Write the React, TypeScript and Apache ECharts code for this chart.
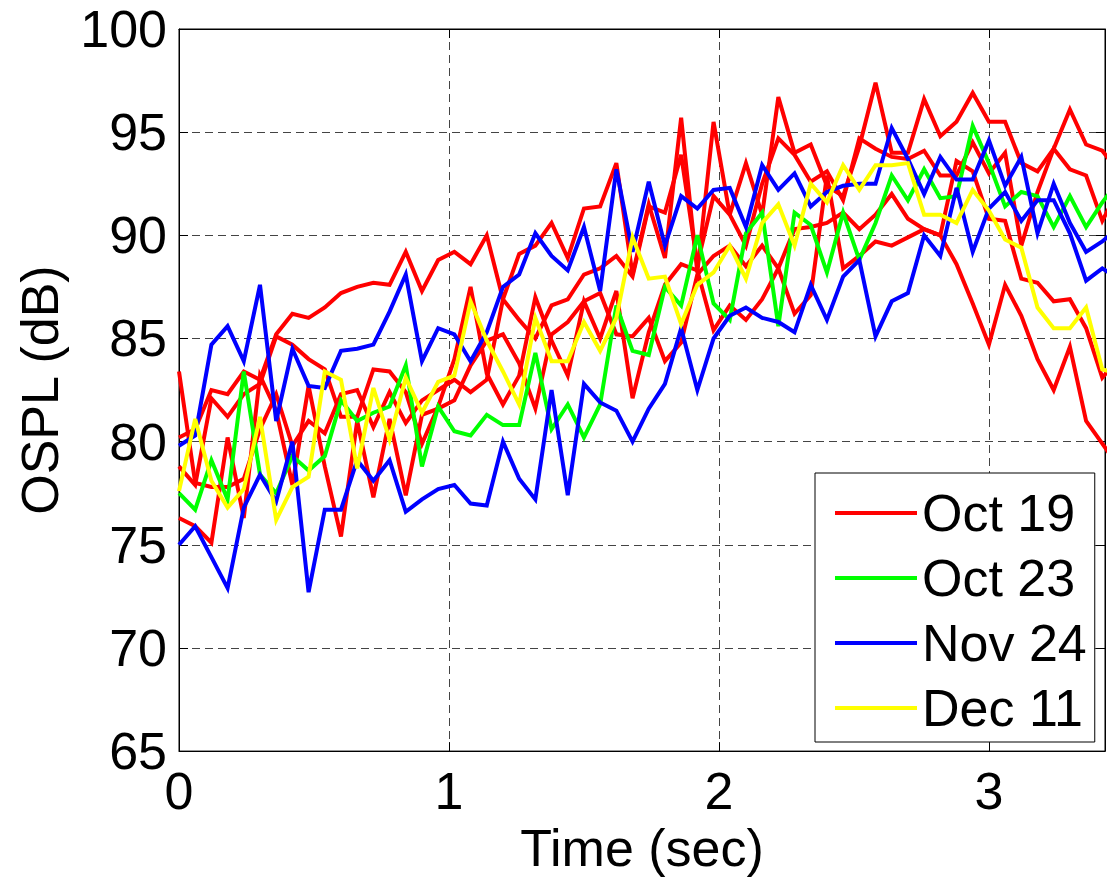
import React, { useEffect, useRef } from "react";
import * as echarts from "echarts";

// Sampling step of the OSPL traces (seconds)
const DT = 0.06;
const X_MIN = 0;
const X_MAX = 3.43;
const Y_MIN = 65;
const Y_MAX = 100;

const legendNames = ["Oct 19", "Oct 23", "Nov 24", "Dec 11"];

// Oct 19 (four runs, red)
const oct19a = [
  80.2, 80.6, 82.5, 82.3, 83.4, 83.0, 85.2, 86.2, 86.0, 86.5, 87.2,
  87.5, 87.7, 87.6, 89.2, 87.3, 88.8, 89.2, 88.6, 90.0, 86.9,
  89.1, 89.5, 90.6, 88.9, 91.3, 91.4, 93.5, 88.1, 91.5, 88.9,
  95.7, 88.2, 95.5, 91.0, 93.5, 91.0, 96.7, 94.0, 94.4, 92.4,
  91.9, 94.3, 97.4, 94.0, 94.0, 96.6, 94.8, 95.5, 96.9, 95.5,
  95.5, 93.5, 93.1, 94.2, 96.1, 94.4, 94.1, 93.1,
];
const oct19b = [
  83.4, 78.0, 77.8, 77.8, 78.2, 80.6, 82.3, 79.8, 81.0, 80.4, 82.3,
  82.5, 80.7, 82.4, 80.9, 82.0, 82.5, 83.0, 82.4, 83.0, 86.9,
  85.9, 85.0, 86.6, 86.9, 88.1, 88.4, 89.0, 88.0, 91.4, 91.1,
  93.9, 88.6, 91.9, 91.0, 89.5, 92.5, 94.7, 93.9, 92.6, 93.1,
  91.7, 94.7, 94.2, 93.8, 93.7, 94.1, 92.9, 92.9, 94.5, 93.0,
  94.0, 89.5, 92.1, 94.2, 93.2, 92.9, 90.7, 92.2,
];
const oct19c = [
  78.8, 77.9, 82.1, 81.2, 82.3, 82.8, 85.1, 84.7, 84.0, 83.5, 81.2,
  81.2, 83.5, 83.4, 82.4, 79.9, 81.7, 84.0, 87.5, 83.3, 81.8,
  83.2, 87.0, 84.9, 83.2, 86.8, 85.0, 87.3, 82.1, 85.3, 87.6,
  88.6, 88.3, 85.4, 86.6, 85.9, 86.9, 88.4, 86.2, 87.1, 92.9,
  88.4, 89.0, 89.7, 89.5, 89.9, 90.3, 90.0, 93.6, 93.1, 90.8,
  90.7, 87.9, 87.7, 86.8, 86.9, 85.5, 83.1, 84.0,
];
const oct19d = [
  76.3, 75.9, 75.1, 80.2, 76.3, 83.2, 81.5, 77.9, 82.7, 78.8, 75.4,
  81.0, 77.3, 81.1, 77.4, 81.3, 81.6, 82.0, 83.7, 84.9, 85.2,
  83.8, 81.6, 85.2, 85.8, 86.8, 87.2, 85.2, 85.1, 86.0, 83.9,
  84.8, 88.1, 89.0, 89.5, 88.5, 89.5, 88.4, 90.3, 90.4, 90.6,
  91.1, 90.3, 91.0, 92.0, 90.8, 90.3, 90.0, 88.6, 86.7, 84.7,
  87.6, 86.1, 84.0, 82.5, 84.6, 81.0, 79.9, 78.8,
];

// Oct 23 (green)
const oct23 = [
  77.5, 76.7, 79.1, 77.2, 83.4, 78.4, 77.5, 79.3, 78.6, 79.3, 82.0,
  81.0, 81.4, 81.7, 83.7, 78.8, 81.7, 80.5, 80.3, 81.3, 80.8,
  80.8, 84.3, 80.6, 81.8, 80.2, 81.8, 86.6, 84.4, 84.2, 87.5,
  86.6, 90.0, 86.7, 85.9, 90.1, 91.1, 85.6, 91.1, 90.5, 88.2,
  91.1, 88.8, 90.6, 92.9, 91.7, 93.2, 91.8, 91.9, 95.3, 93.5,
  91.4, 92.1, 91.9, 90.4, 91.9, 90.4, 91.6, 92.6,
];

// Nov 24 (two runs, blue)
const nov24a = [
  79.8, 80.3, 84.7, 85.6, 83.9, 87.6, 81.0, 84.5, 82.7, 82.6, 84.4,
  84.5, 84.7, 86.3, 88.1, 83.9, 85.5, 85.2, 83.9, 85.3, 87.5,
  88.1, 90.1, 89.0, 88.3, 90.4, 87.3, 93.2, 89.2, 92.6, 89.5,
  91.9, 91.3, 92.2, 92.3, 90.4, 93.4, 92.2, 93.0, 91.4, 92.1,
  92.4, 92.5, 92.5, 95.2, 93.7, 92.0, 93.8, 92.7, 92.7, 94.6,
  92.4, 93.8, 90.1, 92.5, 90.6, 89.2, 89.7, 90.4,
];
const nov24b = [
  75.0, 75.9, 74.4, 72.9, 76.8, 78.4, 77.1, 80.0, 72.7, 76.7, 76.7,
  79.1, 78.1, 79.1, 76.6, 77.2, 77.7, 77.9, 77.0, 76.9, 80.0,
  78.2, 77.2, 82.5, 77.4, 82.8, 81.9, 81.5, 80.0, 81.6, 82.8,
  85.5, 82.5, 85.0, 86.1, 86.5, 86.0, 85.8, 85.3, 87.6, 85.9,
  88.0, 88.8, 85.1, 86.8, 87.2, 90.0, 89.0, 92.3, 89.2, 91.3,
  92.1, 90.7, 91.7, 91.7, 90.1, 87.8, 88.4, 87.9,
];

// Dec 11 (yellow)
const dec11 = [
  77.6, 81.1, 78.1, 76.8, 77.7, 81.2, 76.2, 77.8, 78.3, 83.4, 83.0,
  78.7, 82.6, 80.1, 83.1, 81.4, 82.9, 83.2, 86.8, 84.9, 83.4,
  81.8, 86.0, 83.9, 83.9, 85.8, 84.4, 86.0, 89.9, 87.9, 88.0,
  85.7, 87.6, 88.2, 89.5, 87.9, 90.6, 91.5, 89.5, 92.5, 91.6,
  93.4, 92.2, 93.4, 93.4, 93.5, 91.0, 91.0, 90.6, 92.2, 91.2,
  89.8, 89.4, 86.5, 85.5, 85.5, 86.5, 83.5, 83.3,
];

const FONT = "'Liberation Sans', Arial, Helvetica, sans-serif";

const toPairs = (vals: number[]) =>
  vals.map((v, i) => [Math.round(i * DT * 1000) / 1000, v]);

const runs: { name: string; color: string; data: number[] }[] = [
  { name: "Oct 19", color: "#ff0000", data: oct19a },
  { name: "Oct 19", color: "#ff0000", data: oct19b },
  { name: "Oct 19", color: "#ff0000", data: oct19c },
  { name: "Oct 19", color: "#ff0000", data: oct19d },
  { name: "Oct 23", color: "#00ff00", data: oct23 },
  { name: "Nov 24", color: "#0000ff", data: nov24a },
  { name: "Nov 24", color: "#0000ff", data: nov24b },
  { name: "Dec 11", color: "#ffff00", data: dec11 },
];

export default function App() {
  const ref = useRef<HTMLDivElement>(null);

  useEffect(() => {
    if (!ref.current) return;
    const chart = echarts.init(ref.current, undefined, { renderer: "svg" });

    const gridLine = { type: [8, 5] as any, color: "#444", width: 1 };

    const option: any = {
      animation: false,
      backgroundColor: "#ffffff",
      textStyle: { fontFamily: FONT },
      grid: {
        left: 179,
        top: 29,
        right: 1,
        bottom: 122,
        show: true,
        borderColor: "#000",
        borderWidth: 1,
        backgroundColor: "transparent",
      },
      xAxis: [
        {
          type: "value",
          min: X_MIN,
          max: X_MAX,
          interval: 1,
          position: "bottom",
          name: "Time (sec)",
          nameLocation: "middle",
          nameGap: 62,
          nameTextStyle: { fontSize: 52, color: "#000", fontFamily: FONT },
          axisLine: { show: true, onZero: false, lineStyle: { color: "#000", width: 1 } },
          axisTick: { show: true, inside: true, length: 9, lineStyle: { color: "#000" } },
          axisLabel: {
            fontSize: 52,
            color: "#000",
            margin: 14,
            fontFamily: FONT,
            formatter: (v: number) => (Number.isInteger(v) ? String(v) : ""),
          },
          splitLine: { show: true, lineStyle: gridLine },
        },
        {
          type: "value",
          min: X_MIN,
          max: X_MAX,
          interval: 1,
          position: "top",
          axisLine: { show: true, onZero: false, lineStyle: { color: "#000", width: 1 } },
          axisTick: { show: true, inside: true, length: 9, lineStyle: { color: "#000" } },
          axisLabel: { show: false },
          splitLine: { show: false },
        },
      ],
      yAxis: [
        {
          type: "value",
          min: Y_MIN,
          max: Y_MAX,
          interval: 5,
          position: "left",
          name: "OSPL (dB)",
          nameLocation: "middle",
          nameGap: 113,
          nameTextStyle: { fontSize: 52, color: "#000", fontFamily: FONT },
          axisLine: { show: true, onZero: false, lineStyle: { color: "#000", width: 1 } },
          axisTick: { show: true, inside: true, length: 9, lineStyle: { color: "#000" } },
          axisLabel: { fontSize: 52, color: "#000", margin: 12, fontFamily: FONT },
          splitLine: { show: true, lineStyle: gridLine },
        },
        {
          type: "value",
          min: Y_MIN,
          max: Y_MAX,
          interval: 5,
          position: "right",
          axisLine: { show: true, onZero: false, lineStyle: { color: "#000", width: 1 } },
          axisTick: { show: true, inside: true, length: 9, lineStyle: { color: "#000" } },
          axisLabel: { show: false },
          splitLine: { show: false },
        },
      ],
      legend: {
        data: legendNames,
        orient: "vertical",
        left: 815,
        top: 473,
        itemWidth: 82,
        itemHeight: 14,
        itemGap: 13,
        itemTextGap: 27,
        padding: [14, 8, 8, 18],
        backgroundColor: "#ffffff",
        borderColor: "#000",
        borderWidth: 1,
        borderRadius: 0,
        selectedMode: false,
        itemStyle: { opacity: 0, borderWidth: 0 },
        lineStyle: { width: 4 },
        textStyle: { fontSize: 52, color: "#000", lineHeight: 50, fontFamily: FONT },
        z: 10,
      },
      series: runs.map((r, k) => ({
        type: "line",
        name: r.name,
        xAxisIndex: 0,
        yAxisIndex: 0,
        data: toPairs(r.data),
        symbol: "none",
        showSymbol: false,
        clip: true,
        z: 2 + k * 0.01,
        color: r.color,
        lineStyle: { color: r.color, width: 4, join: "miter" },
        emphasis: { disabled: true },
      })),
    };

    chart.setOption(option);
    return () => chart.dispose();
  }, []);

  return (
    <div
      ref={ref}
      style={{ position: "absolute", left: 0, top: 0, width: 1108, height: 879, background: "#fff" }}
    />
  );
}
